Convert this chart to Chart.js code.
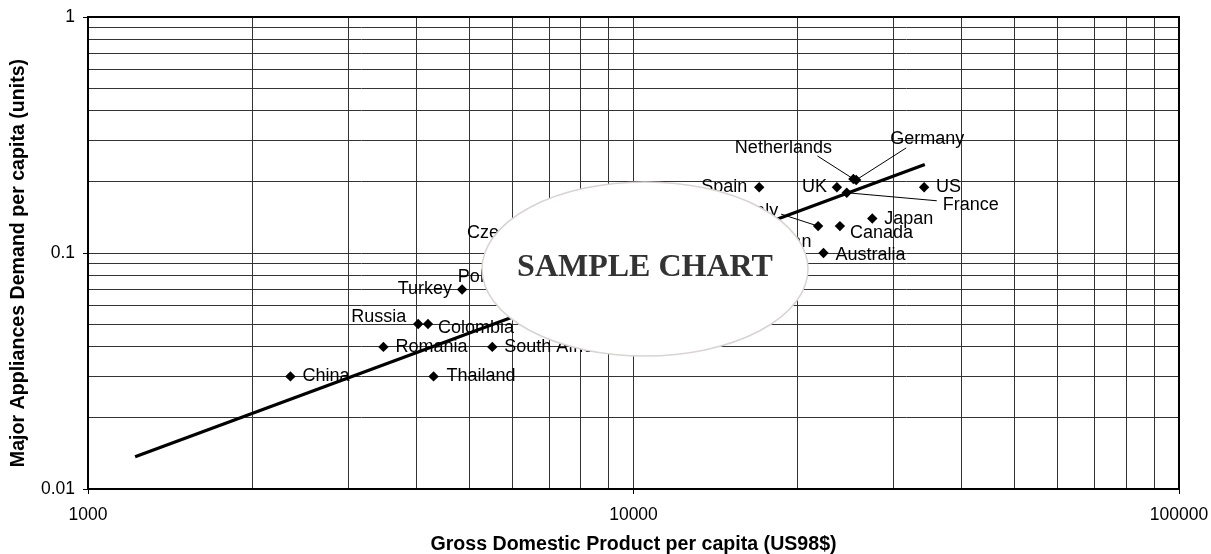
<!DOCTYPE html>
<html>
<head>
<meta charset="utf-8">
<script src="https://cdn.jsdelivr.net/npm/chart.js@4.4.1/dist/chart.umd.min.js"></script>
<style>
  html, body { margin: 0; padding: 0; background: #ffffff; }
  #wrap { width: 1211px; height: 554px; position: relative; }
</style>
</head>
<body>
<div id="wrap"><canvas id="chart" width="1211" height="554"></canvas></div>
<script>
// Country observations: GDP per capita (US98$) vs major appliance demand per capita
const countries = [
  'China', 'Thailand', 'Romania', 'South Africa', 'Russia', 'Colombia', 'Turkey',
  'Poland', 'Czech Republic', 'Taiwan', 'Italy', 'Spain', 'UK', 'Netherlands',
  'Germany', 'France', 'US', 'Japan', 'Canada', 'Australia'
];
const gdpPerCapita = [
  2350, 4300, 3480, 5510, 4030, 4200, 4850,
  6190, 7330, 15900, 21800, 17000, 23600, 25300,
  25600, 24600, 34100, 27400, 23900, 22300
];
const demandPerCapita = [
  0.030, 0.030, 0.040, 0.040, 0.050, 0.050, 0.070,
  0.073, 0.103, 0.111, 0.130, 0.190, 0.190, 0.206,
  0.204, 0.180, 0.190, 0.140, 0.130, 0.100
];

// Power trend line end points
const trendGdp = [1220, 34200];
const trendDemand = [0.0137, 0.237];

// Labelled axis ticks
const xTickValues = [1000, 10000, 100000];
const xTickLabels = ['1000', '10000', '100000'];
const yTickValues = [0.01, 0.1, 1];
const yTickLabels = ['0.01', '0.1', '1'];

const xTitle = 'Gross Domestic Product per capita (US98$)';
const yTitle = 'Major Appliances Demand per capita (units)';

// Label placement around each marker (pixels); default is right of the marker
const labelPlacement = {
  'China':          { dx: 12, dy: 0 },
  'Thailand':       { dx: 13, dy: 0 },
  'Romania':        { dx: 12, dy: 0 },
  'South Africa':   { dx: 12, dy: 0 },
  'Russia':         { dx: -12, dy: -7, align: 'right' },
  'Colombia':       { dx: 10, dy: 4 },
  'Turkey':         { dx: -10, dy: -1, align: 'right' },
  'Poland':         { dx: -62, dy: -8 },
  'Czech Republic': { dx: -93, dy: -17 },
  'Taiwan':         { dx: 12, dy: 0 },
  'Italy':          { dx: -40, dy: -15, align: 'right', leader: [-37, -12] },
  'Spain':          { dx: -12, dy: 0, align: 'right' },
  'UK':             { dx: -10, dy: 0, align: 'right' },
  'Netherlands':    { dx: -70, dy: -31, align: 'center', leader: [-36, -23] },
  'Germany':        { dx: 71, dy: -41, align: 'center', leader: [50, -32] },
  'France':         { dx: 96, dy: 12, leader: [90, 8] },
  'US':             { dx: 12, dy: 0 },
  'Japan':          { dx: 12, dy: 1 },
  'Canada':         { dx: 10, dy: 7 },
  'Australia':      { dx: 12, dy: 2 }
};

const FONT = '"Liberation Sans", Arial, sans-serif';

// Grid positions at 1..9 of every decade between min and max
function decadeGrid(min, max) {
  const out = [];
  for (let p = Math.round(Math.log10(min)); p < Math.round(Math.log10(max)); p++) {
    for (let m = 1; m <= 9; m++) out.push(+(m * Math.pow(10, p)).toPrecision(6));
  }
  out.push(max);
  return out;
}
function labelFor(values, labels, v) {
  const i = values.findIndex(t => Math.abs(t - v) / t < 1e-6);
  return i >= 0 ? labels[i] : '';
}
function isLabelled(values, v) {
  return values.some(t => Math.abs(t - v) / t < 1e-6);
}

// Plot frame plus the rotated value-axis title
const framePlugin = {
  id: 'plotFrame',
  beforeDatasetsDraw(chart) {
    const { ctx, chartArea: a } = chart;
    ctx.save();
    ctx.strokeStyle = '#000';
    ctx.lineWidth = 2;
    ctx.strokeRect(a.left, a.top, a.right - a.left, a.bottom - a.top);
    ctx.translate(19, (a.top + a.bottom) / 2 + 10);
    ctx.rotate(-Math.PI / 2);
    ctx.font = 'bold 19.6px ' + FONT;
    ctx.fillStyle = '#000';
    ctx.textAlign = 'center';
    ctx.textBaseline = 'middle';
    ctx.fillText(yTitle, 0, 0);
    ctx.restore();
  }
};

const pointLabelPlugin = {
  id: 'pointLabels',
  afterDatasetsDraw(chart) {
    const meta = chart.getDatasetMeta(1);
    const ctx = chart.ctx;
    ctx.save();
    ctx.font = '18px ' + FONT;
    ctx.fillStyle = '#000';
    ctx.strokeStyle = '#000';
    ctx.lineWidth = 1;
    ctx.textBaseline = 'middle';
    meta.data.forEach((pt, i) => {
      const name = countries[i];
      const p = labelPlacement[name] || {};
      const dx = p.dx ?? 12, dy = p.dy ?? 0;
      if (p.leader) {
        ctx.beginPath();
        ctx.moveTo(pt.x + p.leader[0], pt.y + p.leader[1]);
        ctx.lineTo(pt.x, pt.y);
        ctx.stroke();
      }
      ctx.textAlign = p.align || 'left';
      ctx.fillText(name, pt.x + dx, pt.y + dy);
    });
    ctx.restore();
  }
};

const watermarkPlugin = {
  id: 'watermark',
  afterDraw(chart) {
    const ctx = chart.ctx;
    ctx.save();
    ctx.beginPath();
    ctx.ellipse(645, 269, 163, 87, 0, 0, Math.PI * 2);
    ctx.fillStyle = '#ffffff';
    ctx.fill();
    ctx.strokeStyle = '#d9d3d3';
    ctx.lineWidth = 1.5;
    ctx.stroke();
    ctx.font = 'bold 32px "Liberation Serif", "Times New Roman", serif';
    ctx.fillStyle = '#333333';
    ctx.textAlign = 'center';
    ctx.textBaseline = 'alphabetic';
    ctx.fillText('SAMPLE CHART', 645, 276);
    ctx.restore();
  }
};

new Chart(document.getElementById('chart'), {
  type: 'scatter',
  data: {
    datasets: [
      {
        label: 'Power trend',
        data: trendGdp.map((x, i) => ({ x, y: trendDemand[i] })),
        showLine: true,
        borderColor: '#000',
        borderWidth: 3.2,
        pointRadius: 0,
        fill: false,
        order: 0
      },
      {
        label: 'Countries',
        data: gdpPerCapita.map((x, i) => ({ x, y: demandPerCapita[i] })),
        pointStyle: 'rectRot',
        pointRadius: 5.2,
        pointBackgroundColor: '#000',
        pointBorderColor: '#000',
        pointBorderWidth: 0,
        order: 1
      }
    ]
  },
  options: {
    responsive: false,
    animation: false,
    devicePixelRatio: 1,
    layout: { padding: { top: 17, right: 32, left: 0, bottom: 0 } },
    plugins: { legend: { display: false }, tooltip: { enabled: false } },
    scales: {
      x: {
        type: 'logarithmic',
        min: 1000,
        max: 100000,
        afterBuildTicks(scale) {
          scale.ticks = decadeGrid(1000, 100000).map(v => ({ value: v }));
        },
        afterFit(scale) {
          scale.height = 65;
          scale.paddingLeft = 0;
          scale.paddingRight = 0;
        },
        ticks: {
          autoSkip: false,
          maxRotation: 0,
          padding: 11,
          color: '#000',
          font: { family: FONT, size: 17.5 },
          callback: (v) => labelFor(xTickValues, xTickLabels, v)
        },
        grid: {
          color: '#333333',
          lineWidth: 1,
          tickLength: 5,
          tickColor: (c) => (c.tick && isLabelled(xTickValues, c.tick.value)) ? '#000' : 'rgba(0,0,0,0)'
        },
        border: { color: '#000', width: 2 },
        title: {
          display: true,
          text: xTitle,
          color: '#000',
          font: { family: FONT, size: 19.6, weight: 'bold', lineHeight: 1 },
          padding: { top: 0, bottom: 0 }
        }
      },
      y: {
        type: 'logarithmic',
        min: 0.01,
        max: 1,
        afterBuildTicks(scale) {
          scale.ticks = decadeGrid(0.01, 1).map(v => ({ value: v }));
        },
        afterFit(scale) {
          scale.width = 88;
          scale.paddingTop = 0;
          scale.paddingBottom = 0;
        },
        ticks: {
          autoSkip: false,
          padding: 8,
          color: '#000',
          font: { family: FONT, size: 17.5 },
          callback: (v) => labelFor(yTickValues, yTickLabels, v)
        },
        grid: {
          color: '#333333',
          lineWidth: 1,
          tickLength: 5,
          tickColor: (c) => (c.tick && isLabelled(yTickValues, c.tick.value)) ? '#000' : 'rgba(0,0,0,0)'
        },
        border: { color: '#000', width: 2 },
        title: { display: false }
      }
    }
  },
  plugins: [framePlugin, pointLabelPlugin, watermarkPlugin]
});
</script>
</body>
</html>
